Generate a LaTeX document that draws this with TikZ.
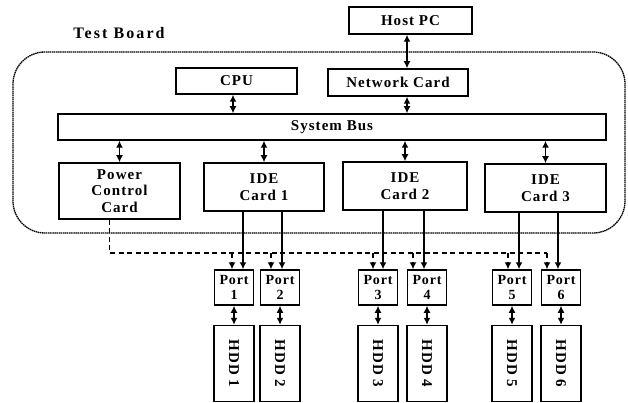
\documentclass[tikz,border=0pt]{standalone}
\usepackage{fontspec}
\usepackage{graphicx}
\setmainfont{Liberation Serif}
\newfontfamily\unitfont{Liberation Serif}[LetterSpace=7]
\newfontfamily\portfont{Liberation Serif}[LetterSpace=6]
\newfontfamily\titlefont{Liberation Serif}[LetterSpace=13]
\usetikzlibrary{arrows.meta}

\tikzset{
  unit/.style={draw, line width=1.5pt, inner sep=0pt, align=center,
    font=\unitfont\bfseries\fontsize{15}{16.5}\selectfont},
  port/.style={unit, minimum width=39, minimum height=35,
    font=\portfont\bfseries\fontsize{14}{15}\selectfont},
  hdd/.style={unit, minimum width=40, minimum height=76},
  board/.style={draw, line width=1.3pt, dash pattern=on 1.5pt off 0.6pt,
    rounded corners=32, minimum width=612, minimum height=181, inner sep=0pt}
}

\begin{document}
\begin{tikzpicture}[x=1pt,y=-1pt,
    dbl/.style={{Latex[length=7pt,width=7pt]}-{Latex[length=7pt,width=7pt]}, line width=1.7pt},
    feed/.style={-{Latex[length=7pt,width=7pt]}, line width=1.5pt},
    ctrl/.style={line width=1.3pt, dash pattern=on 5pt off 3.5pt}]
  \useasboundingbox (0,0) rectangle (628,403);

  % the board and what sits on it
  \node[board] (board) at (319,142.5) {};
  \node[font=\titlefont\bfseries\fontsize{16}{18}\selectfont] (title) at (119,33) {Test Board};
  \node[unit, minimum width=123, minimum height=27] (host) at (410.5,20.5) {Host PC};
  \node[unit, minimum width=121, minimum height=26] (cpu) at (236.5,81) {CPU};
  \node[unit, minimum width=140, minimum height=27] (net) at (398,82.5) {Network Card};
  \node[unit, minimum width=548, minimum height=26] (bus) at (332,127) {System Bus};
  \node[unit, minimum width=121, minimum height=56] (power) at (119.5,191) {Power\\Control\\Card};
  \node[unit, minimum width=120, minimum height=48] (ide1) at (264,187) {IDE\\Card 1};
  \node[unit, minimum width=124, minimum height=48] (ide2) at (405,186) {IDE\\Card 2};
  \node[unit, minimum width=121, minimum height=48] (ide3) at (545.5,188) {IDE\\Card 3};

  % bus links
  \path ([xshift=-3.5]host.south) coordinate (lan)
        ([xshift=9]net.south) coordinate (nb)
        ([xshift=-3.5]cpu.south) coordinate (cb);
  \draw[dbl] (lan) -- (lan |- net.north);
  \draw[dbl] (cb) -- (cb |- bus.north);
  \draw[dbl] (nb) -- (nb |- bus.north);
  \foreach \c in {power,ide1,ide2,ide3}
    \draw[dbl] (\c.north |- bus.south) -- (\c.north);

  % ports and drives
  \foreach \i/\x in {1/234,2/280,3/378,4/427,5/512,6/561} {
    \node[port] (p\i) at (\x,287.5) {Port\\\i};
    \node[hdd] (h\i) at (\x,363.5) {\rotatebox{-90}{HDD \i}};
    \draw[dbl] (p\i) -- (h\i);
  }

  % data cables and power control lines
  \coordinate (ctl) at (0,253);
  \foreach \i/\c/\d/\s in {1/ide1/-2/9, 2/ide1/-9/2, 3/ide2/-5/5,
                           4/ide2/-14/-3, 5/ide3/-4/7, 6/ide3/-14/-3} {
    \path ([xshift=\d]p\i.north) coordinate (d\i)
          ([xshift=\s]p\i.north) coordinate (s\i);
    \draw[feed] (s\i |- \c.south) -- (s\i);
    \draw[ctrl, -{Latex[length=7pt,width=7pt]}] (d\i |- ctl) -- (d\i);
  }
  \path ([xshift=-10]power.south) coordinate (pc);
  \draw[ctrl] (pc) |- (d6 |- ctl);
\end{tikzpicture}
\end{document}
